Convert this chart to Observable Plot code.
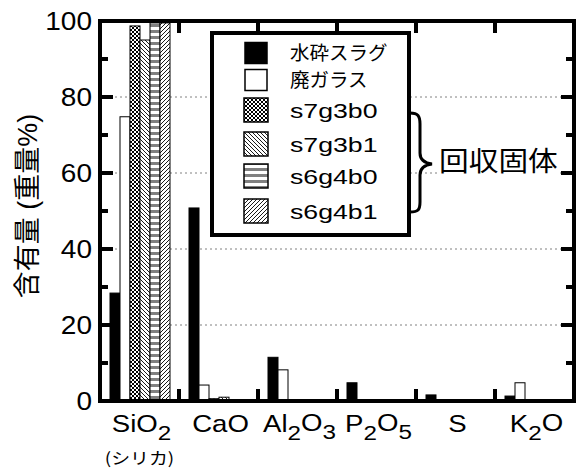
<!DOCTYPE html>
<html><head><meta charset="utf-8">
<script src="https://cdn.jsdelivr.net/npm/d3@7"></script>
<script src="https://cdn.jsdelivr.net/npm/@observablehq/plot@0.6"></script>
<style>
body{margin:0;background:#fff}
#chart{position:relative;width:580px;height:468px}
</style>
</head><body><div id="chart"></div>
<script>
// ---- data ----
const categories = ["SiO2", "CaO", "Al2O3", "P2O5", "S", "K2O"];
const categoryLabels = ["SiO_2", "CaO", "Al_2O_3", "P_2O_5", "S", "K_2O"];
const series = ["水砕スラグ", "廃ガラス", "s7g3b0", "s7g3b1", "s6g4b0", "s6g4b1"];
const slag   = [28.4, 50.8, 11.5, 4.8, 1.6, 1.3];
const glass  = [74.8, 4.2, 8.2, 0, 0, 4.8];
const s7g3b0 = [98.7, 0.6, 0, 0, 0, 0];
const s7g3b1 = [95.0, 1.0, 0, 0, 0, 0];
const s6g4b0 = [99.5, 0, 0, 0, 0, 0];
const s6g4b1 = [99.5, 0, 0, 0, 0, 0];
const yTicks = [0, 20, 40, 60, 80, 100];
const yMinorTicks = [10, 30, 50, 70, 90];
const yLabel = "含有量 (重量%)";
const subLabel = "(シリカ)";
const groupLabel = "回収固体";

const seriesValues = [slag, glass, s7g3b0, s7g3b1, s6g4b0, s6g4b1];
const fills = ["black", "white", "url(#p-cross)", "url(#p-back)", "url(#p-horiz)", "url(#p-fwd)"];

const table = [];
series.forEach((s, i) => categories.forEach((c, j) => table.push({cat: c, series: s, value: seriesValues[i][j]})));

const FONT = "'Liberation Sans', Arial, 'Noto Sans CJK JP', sans-serif";

const chart = Plot.plot({
  width: 580, height: 468,
  marginLeft: 99, marginRight: 5, marginTop: 21, marginBottom: 67,
  style: {fontFamily: FONT, background: "white"},
  fx: {domain: categories, padding: 0, axis: null},
  x: {domain: series, paddingInner: 0, paddingOuter: 0.72, axis: null},
  y: {domain: [0, 100], axis: null},
  marks: series.map((s, i) => Plot.barY(table.filter(d => d.series === s && d.value > 0), {
    fx: "cat", x: "series", y: "value", fill: fills[i], stroke: "black", strokeWidth: 1
  }))
});
document.getElementById("chart").append(chart);

const svg = d3.select(chart);
const ys = chart.scale("y"), fxs = chart.scale("fx");
const X0 = fxs.apply(categories[0]);
const X1 = fxs.apply(categories[categories.length - 1]) + fxs.bandwidth;
const Y0 = ys.apply(0), Y1 = ys.apply(100);

// patterns
const defs = svg.append("defs");
function pat(id, w, h, draw) {
  const p = defs.append("pattern").attr("id", id).attr("patternUnits", "userSpaceOnUse").attr("width", w).attr("height", h);
  p.append("rect").attr("width", w).attr("height", h).attr("fill", "white");
  draw(p);
}
pat("p-cross", 4, 4, p => p.append("path").attr("d", "M0,0L4,4M4,0L0,4").attr("stroke", "black").attr("stroke-width", 1));
pat("p-back", 4, 4, p => p.append("path").attr("d", "M-1,-1L5,5M-1,3L1,5M3,-1L5,1").attr("stroke", "black").attr("stroke-width", 0.9));
pat("p-horiz", 6, 6, p => p.append("rect").attr("width", 6).attr("height", 3).attr("fill", "#808080"));
pat("p-fwd", 4, 4, p => p.append("path").attr("d", "M-1,5L5,-1M-1,1L1,-1M3,5L5,3").attr("stroke", "black").attr("stroke-width", 0.9));

// gridlines behind bars
const grid = svg.insert("g", "g");
[20, 40, 60, 80].forEach(v => grid.append("line")
  .attr("x1", X0).attr("x2", X1).attr("y1", ys.apply(v)).attr("y2", ys.apply(v))
  .attr("stroke", "#808080").attr("stroke-width", 1).attr("stroke-dasharray", "2,3"));

const fg = svg.append("g");
// frame
fg.append("rect").attr("x", X0).attr("y", Y1).attr("width", X1 - X0).attr("height", Y0 - Y1)
  .attr("fill", "none").attr("stroke", "black").attr("stroke-width", 4);
// y ticks (left and right, inward)
yTicks.concat(yMinorTicks).forEach(v => {
  const len = yTicks.includes(v) ? 13 : 8;
  const y = ys.apply(v);
  fg.append("line").attr("x1", X0).attr("x2", X0 + len).attr("y1", y).attr("y2", y).attr("stroke", "black").attr("stroke-width", 4);
  fg.append("line").attr("x1", X1).attr("x2", X1 - len).attr("y1", y).attr("y2", y).attr("stroke", "black").attr("stroke-width", 4);
});
// category boundary ticks (top and bottom)
categories.slice(1).forEach(c => {
  const x = fxs.apply(c);
  fg.append("line").attr("x1", x).attr("x2", x).attr("y1", Y1).attr("y2", Y1 + 12).attr("stroke", "black").attr("stroke-width", 4);
  fg.append("line").attr("x1", x).attr("x2", x).attr("y1", Y0).attr("y2", Y0 - 12).attr("stroke", "black").attr("stroke-width", 4);
});

function stext(g, x, y, str, size, sx, anchor) {
  return g.append("text").attr("transform", `translate(${x},${y}) scale(${sx},1)`)
    .attr("font-size", size).attr("font-family", FONT).attr("text-anchor", anchor || "start")
    .attr("fill", "black").text(str);
}

// y tick labels
yTicks.forEach(v => stext(fg, 92, ys.apply(v) + 9, String(v), 25, 1.12, "end"));

// x tick labels with subscripts
categoryLabels.forEach((lab, i) => {
  const cx = fxs.apply(categories[i]) + fxs.bandwidth / 2 + 2;
  const t = fg.append("text").attr("transform", `translate(${cx},432) scale(1.15,1)`)
    .attr("font-size", 24).attr("font-family", FONT).attr("text-anchor", "middle");
  let shifted = false;
  lab.split(/(_\d)/).filter(p => p).forEach(p => {
    if (p[0] === "_") {
      t.append("tspan").attr("dy", "0.4em").attr("font-size", "0.88em").text(p.slice(1));
      shifted = true;
    } else {
      const ts = t.append("tspan").text(p);
      if (shifted) { ts.attr("dy", "-0.4em"); shifted = false; }
    }
  });
});
stext(fg, fxs.apply(categories[0]) + fxs.bandwidth / 2, 464, subLabel, 16, 1.18, "middle")
  .attr("font-family", "'Noto Sans CJK JP', sans-serif");

// y axis label
fg.append("text").attr("transform", "translate(27.5,206) rotate(-90)")
  .attr("font-size", 27).attr("font-family", FONT).attr("text-anchor", "middle")
  .attr("dominant-baseline", "central").text(yLabel);

// legend
const lg = fg.append("g");
lg.append("rect").attr("x", 212).attr("y", 33).attr("width", 197).attr("height", 202)
  .attr("fill", "white").attr("stroke", "black").attr("stroke-width", 4);
const rowY = [53, 80, 110, 144, 176, 211];
series.forEach((s, i) => {
  const cy = rowY[i];
  if (i < 2) {
    lg.append("rect").attr("x", 245).attr("y", cy - 10.5).attr("width", 22).attr("height", 21)
      .attr("fill", fills[i]).attr("stroke", "black").attr("stroke-width", 1.5);
    stext(lg, 290, cy + 7.4, s, 19.5, 1, "start");
  } else {
    lg.append("rect").attr("x", 244).attr("y", cy - 12).attr("width", 24).attr("height", 24)
      .attr("fill", fills[i]).attr("stroke", "black").attr("stroke-width", 1.5);
    stext(lg, 290, cy + 7.5, s, 21, 1.27, "start");
  }
});

// brace and group label
fg.append("path")
  .attr("d", "M410,113 C418,113 420,116 420,124 L420,153 C420,160 424,163 432,164 C424,165 420,168 420,175 L420,202 C420,210 418,212 410,212")
  .attr("fill", "none").attr("stroke", "black").attr("stroke-width", 3);
fg.append("rect").attr("x", 438).attr("y", 146).attr("width", 122).attr("height", 32).attr("fill", "white");
stext(fg, 439, 171, groupLabel, 27, 1.1, "start");
</script>
</body></html>
